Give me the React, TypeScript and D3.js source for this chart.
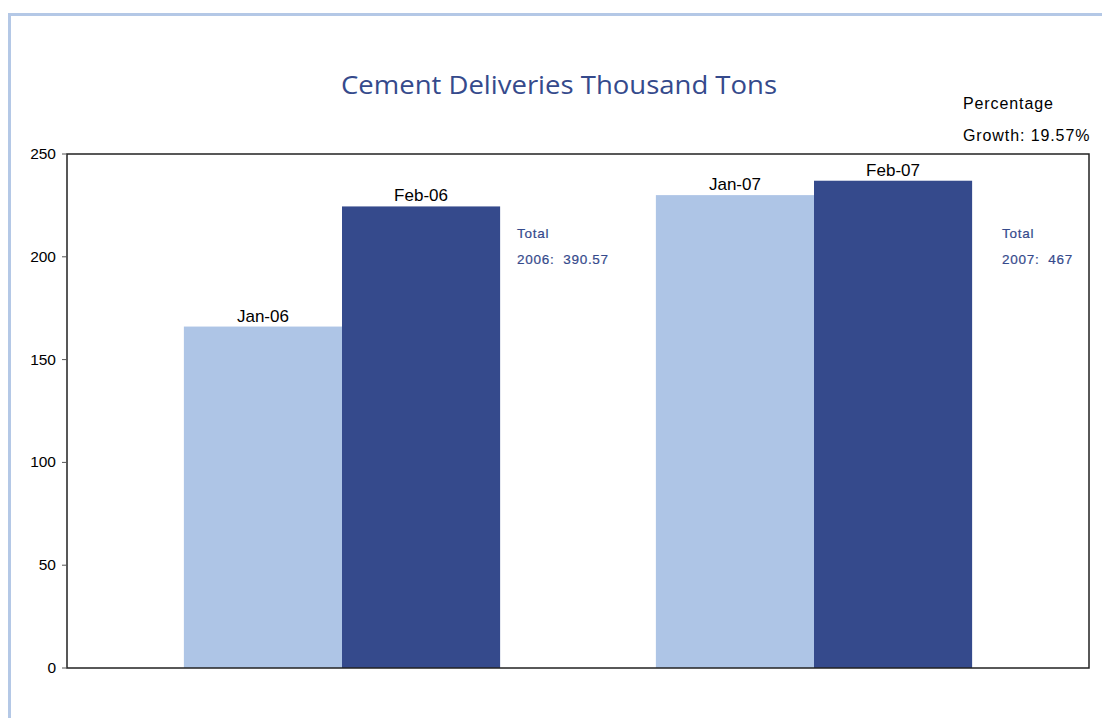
import React from "react";
import * as d3 from "d3";

const groups = ["2006", "2007"];
const months = ["Jan", "Feb"];
const values2006 = [166.07, 224.5];
const values2007 = [230, 237];
const barLabels = [["Jan-06", "Feb-06"], ["Jan-07", "Feb-07"]];
const totals = ["2006:  390.57", "2007:  467"];
const yTicks = [0, 50, 100, 150, 200, 250];
const colors = ["#aec5e6", "#354a8c"];

export default function App() {
  const W = 1102, H = 718;
  const left = 67, right = 1089, top = 154, bottom = 668;
  const y = d3.scaleLinear().domain([0, 250]).range([bottom, top]);
  const x0 = d3.scaleBand().domain(groups).range([106, 1050]).paddingInner(0.33).paddingOuter(0.165);
  const x1 = d3.scaleBand().domain(months).range([0, x0.bandwidth()]);
  const data = [values2006, values2007];
  return (
    <svg width={W} height={H} style={{ position: "absolute", left: 0, top: 0 }} fontFamily="Liberation Sans, Arial, sans-serif">
      <rect x={0} y={0} width={W} height={H} fill="#fff" />
      <line x1={8} x2={W} y1={14.5} y2={14.5} stroke="#b4c8e6" strokeWidth={3} />
      <line x1={9.5} x2={9.5} y1={13} y2={H} stroke="#b4c8e6" strokeWidth={3} />
      <text x={559} y={94} textAnchor="middle" fontSize={26} fill="#354a8c" fontFamily="Open Sans, sans-serif" textLength={436} lengthAdjust="spacingAndGlyphs">Cement Deliveries Thousand Tons</text>
      <text x={963} y={109} fontSize={16} fill="#000" letterSpacing={0.9}>Percentage</text>
      <text x={963} y={141} fontSize={16} fill="#000" letterSpacing={0.9}>Growth: 19.57%</text>
      {groups.map((g, gi) => {
        const tx = (x0(g) as number) + x0.bandwidth() + (gi === 0 ? 17 : 30);
        return (
          <g key={g}>
            {months.map((m, mi) => {
              const v = data[gi][mi];
              const bx = (x0(g) as number) + (x1(m) as number);
              return (
                <g key={m}>
                  <rect x={bx} y={y(v)} width={x1.bandwidth()} height={bottom - y(v)} fill={colors[mi]} />
                  <text x={bx + x1.bandwidth() / 2} y={y(v) - 5} textAnchor="middle" fontSize={17} fill="#000">{barLabels[gi][mi]}</text>
                </g>
              );
            })}
            <text x={tx} y={238} fontSize={13.5} fill="#354a8c" letterSpacing={0.7} stroke="#354a8c" strokeWidth={0.2}>Total</text>
            <text x={tx} y={264} fontSize={13.5} fill="#354a8c" letterSpacing={0.7} stroke="#354a8c" strokeWidth={0.2} style={{ whiteSpace: "pre" }}>{totals[gi]}</text>
          </g>
        );
      })}
      <rect x={left} y={top} width={right - left} height={bottom - top} fill="none" stroke="#222" strokeWidth={1.5} />
      {yTicks.map((t) => (
        <g key={t}>
          <line x1={left - 5} x2={left} y1={y(t)} y2={y(t)} stroke="#555" />
          <text x={left - 11} y={y(t) + 5} textAnchor="end" fontSize={15.5} fill="#000">{t}</text>
        </g>
      ))}
    </svg>
  );
}
